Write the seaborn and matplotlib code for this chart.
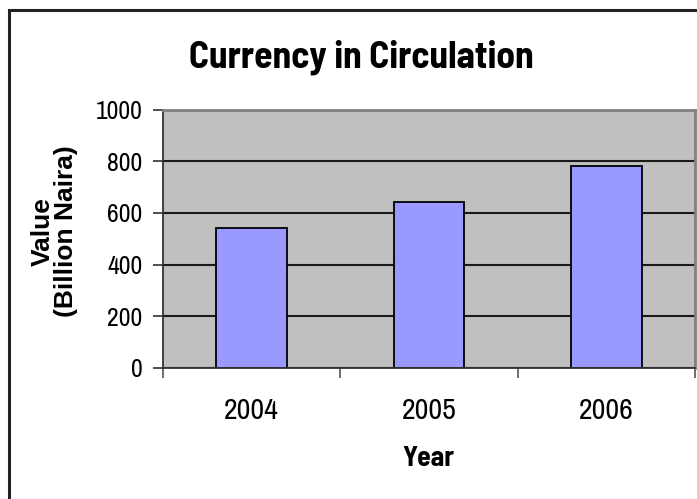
#!/usr/bin/env python3
"""Excel-style bar chart: currency in circulation, 2004-2006."""

import matplotlib as mpl
import matplotlib.pyplot as plt
import pandas as pd
import seaborn as sns
from matplotlib.patches import Rectangle

YEARS = ["2004", "2005", "2006"]
VALUES = [543, 642, 781]
Y_TICKS = [0, 200, 400, 600, 800, 1000]

TITLE = "Currency in Circulation"
X_LABEL = "Year"
Y_LABEL = "Value\n(Billion Naira)"

NARROW = ["Archivo Narrow", "Arial Narrow", "Liberation Sans Narrow",
          "Roboto Condensed", "Barlow Semi Condensed", "Liberation Sans"]
# bold narrow text needs a family with a static bold face
NARROW_BOLD = ["Barlow Semi Condensed", "Pragati Narrow", "Liberation Sans"]

sns.set_theme(style="white")
mpl.rcParams.update(
    {
        "font.family": NARROW,
        "text.color": "black",
        "axes.labelcolor": "black",
        "xtick.color": "black",
        "ytick.color": "black",
        "figure.facecolor": "white",
    }
)

df = pd.DataFrame({"Year": YEARS, "Value": VALUES})

fig = plt.figure(figsize=(6.97, 4.99), dpi=100)
ax = fig.add_axes([0.234, 0.263, 0.763, 0.517])
ax.set_facecolor("#C0C0C0")

sns.barplot(
    data=df,
    x="Year",
    y="Value",
    ax=ax,
    color="#9999FF",
    saturation=1,
    width=0.4,
    edgecolor="black",
    linewidth=1.3,
)

ax.set_ylim(0, 1000)
ax.set_xlim(-0.5, len(YEARS) - 0.5)
ax.set_yticks(Y_TICKS)
ax.set_yticklabels([str(t) for t in Y_TICKS], fontsize=18.5)
ax.set_axisbelow(True)
ax.yaxis.grid(True, color="#1a1a1a", linewidth=1.5)

# category boundary ticks on the x axis, labels centred under bars
ax.set_xticks(range(len(YEARS)))
ax.set_xticklabels(YEARS, fontsize=21.5)
ax.set_xticks([i - 0.5 for i in range(len(YEARS) + 1)], minor=True)
ax.tick_params(axis="x", which="major", length=0, pad=21)
ax.tick_params(axis="x", which="minor", length=7, width=1.2, color="#555555",
               direction="out", bottom=True)
ax.tick_params(axis="y", length=7, width=1.2, color="#333333", direction="out",
               left=True, pad=8)

for side in ("top", "right"):
    ax.spines[side].set_color("#808080")
    ax.spines[side].set_linewidth(2)
for side in ("left", "bottom"):
    ax.spines[side].set_color("#333333")
    ax.spines[side].set_linewidth(1.3)

ax.set_xlabel(X_LABEL, fontsize=20, fontweight="bold", family=NARROW_BOLD)
ax.xaxis.label.set_va("center")
ax.xaxis.set_label_coords(0.498, -0.35)

ax.set_ylabel(Y_LABEL, fontsize=19, fontweight="bold", linespacing=0.95,
              family=["Liberation Sans", "DejaVu Sans"])
ax.yaxis.label.set_va("center")
ax.yaxis.set_label_coords(-0.205, 0.528)

fig.text(0.518, 0.864, TITLE, ha="center", va="baseline", fontsize=27,
         fontweight="bold", family=NARROW_BOLD)

# chart area border (only its top and left edges fall inside the image)
fig.patches.append(
    Rectangle((9 / 697, -0.1), 1.2, 1.1 - 10 / 499, transform=fig.transFigure,
              fill=False, edgecolor="#222222", linewidth=2.2, zorder=0)
)

fig.savefig("out.png", dpi=100)
